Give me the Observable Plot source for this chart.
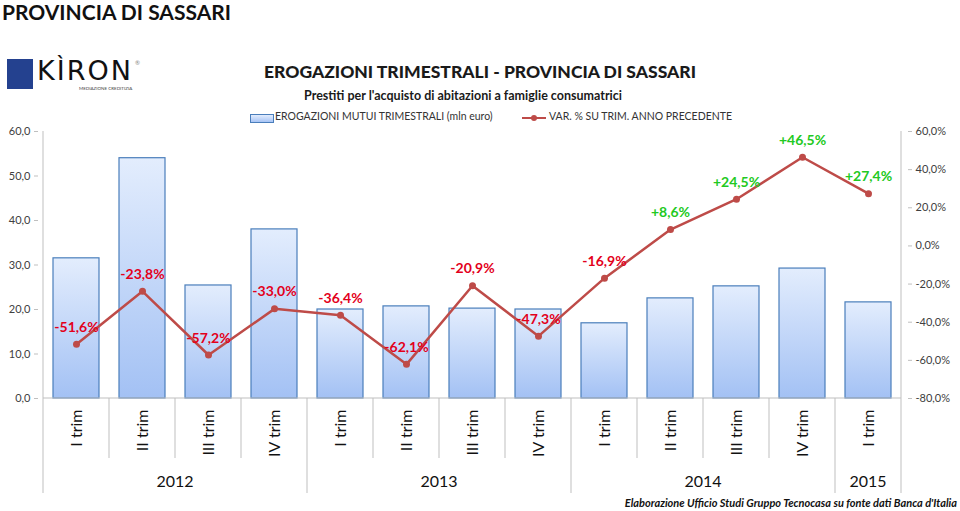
<!DOCTYPE html>
<html>
<head>
<meta charset="utf-8">
<script src="https://cdn.jsdelivr.net/npm/d3@7"></script>
<script src="https://cdn.jsdelivr.net/npm/@observablehq/plot@0.6"></script>
<style>
  html, body { margin: 0; padding: 0; background: #fff; }
  body { width: 960px; height: 511px; position: relative; overflow: hidden; font-family: Lato, "Noto Sans", sans-serif; }
  .abs { position: absolute; white-space: nowrap; }
  #page-title { left: 2px; top: 0px; line-height: 24px; font-size: 21px; font-weight: 700; color: #111; }
  #title { left: 0; width: 960px; text-align: center; top: 61px; font-size: 17.5px; font-weight: 900; color: #1a1a1a; }
  #subtitle { left: 0; width: 926px; text-align: center; top: 88px; font-size: 12.5px; font-weight: 700; color: #1a1a1a; }
  #legend { top: 110px; left: 0; font-size: 10.5px; color: #333; }
  #caption { right: 3px; top: 496px; font-size: 11px; font-weight: 700; font-style: italic; color: #111; }
  #chart { position: absolute; left: 0; top: 120px; }
  #logo { left: 7px; top: 59px; }
</style>
</head>
<body>
<div id="page-title" class="abs">PROVINCIA DI SASSARI</div>
<div id="logo" class="abs">
  <div style="position:absolute;left:0;top:0;width:26px;height:30px;background:#24418f;"></div>
  <div style="position:absolute;left:30px;top:-4px;font-family:'DejaVu Sans',sans-serif;font-size:27px;letter-spacing:2px;color:#111;font-weight:400;">KÌRON</div>
  <div style="position:absolute;left:128px;top:0px;font-size:6px;color:#888;">®</div>
  <div style="position:absolute;left:72px;top:27px;font-size:4.5px;color:#444;">MEDIAZIONE CREDITIZIA</div>
</div>
<div id="title" class="abs">EROGAZIONI TRIMESTRALI - PROVINCIA DI SASSARI</div>
<div id="subtitle" class="abs">Prestiti per l'acquisto di abitazioni a famiglie consumatrici</div>
<div id="legend" class="abs">
  <div style="position:absolute;left:250px;top:4px;width:22px;height:7px;border:1px solid #4a7ebb;background:linear-gradient(#e2ecfd,#a7c4f5);"></div>
  <div style="position:absolute;left:275px;top:0px;">EROGAZIONI MUTUI TRIMESTRALI (mln euro)</div>
  <div style="position:absolute;left:522px;top:7px;width:24px;height:2px;background:#be4b48;"></div>
  <div style="position:absolute;left:531px;top:5px;width:6px;height:6px;border-radius:3px;background:#be4b48;"></div>
  <div style="position:absolute;left:549px;top:0px;">VAR. % SU TRIM. ANNO PRECEDENTE</div>
</div>
<div id="chart"></div>
<div id="caption" class="abs">Elaborazione Ufficio Studi Gruppo Tecnocasa su fonte dati Banca d'Italia</div>
<script>
// ---- data ----
const quarters = ["I trim","II trim","III trim","IV trim","I trim","II trim","III trim","IV trim","I trim","II trim","III trim","IV trim","I trim"];
const years = [2012,2012,2012,2012,2013,2013,2013,2013,2014,2014,2014,2014,2015];
const erogazioni = [31.5,54.0,25.4,38.0,20.0,20.7,20.2,20.0,16.9,22.5,25.2,29.2,21.6];
const variazioni = [-51.6,-23.8,-57.2,-33.0,-36.4,-62.1,-20.9,-47.3,-16.9,8.6,24.5,46.5,27.4];
const leftTicks = [0,10,20,30,40,50,60];
const rightTicks = [-80,-60,-40,-20,0,20,40,60];

const leftDomain = [0, 60];
const rightDomain = [-80, 60];
// map percent onto the bar axis (secondary axis)
const toV = p => leftDomain[0] + (p - rightDomain[0]) * (leftDomain[1] - leftDomain[0]) / (rightDomain[1] - rightDomain[0]);
const fromV = v => rightDomain[0] + (v - leftDomain[0]) * (rightDomain[1] - rightDomain[0]) / (leftDomain[1] - leftDomain[0]);

const rows = quarters.map((q, i) => ({i, q, year: years[i], value: erogazioni[i], pct: variazioni[i]}));
const fmt1 = v => v.toFixed(1).replace(".", ",");
const fmtPct = p => (p > 0 ? "+" : "") + fmt1(p) + "%";

const FONT = "Lato, 'Noto Sans', sans-serif";
const axisGray = "#bfbfbf";

const separators = (index, scales, values, dims) => {
  const {x, y} = scales;
  const g = d3.create("svg:g");
  const step = x.step(), bw = x.bandwidth();
  const left = i => x(i) + bw / 2 - step / 2;
  const y0 = y(0);
  const top = dims.marginTop;
  const n = quarters.length;
  g.append("line").attr("x1", left(0)).attr("x2", left(0)).attr("y1", top).attr("y2", y0 + 95).attr("stroke", axisGray);
  g.append("line").attr("x1", left(n - 1) + step).attr("x2", left(n - 1) + step).attr("y1", top).attr("y2", y0 + 95).attr("stroke", axisGray);
  g.append("line").attr("x1", left(0)).attr("x2", left(n - 1) + step).attr("y1", y0).attr("y2", y0).attr("stroke", axisGray);
  for (let i = 1; i < n; i++) {
    const long = years[i] !== years[i - 1];
    g.append("line").attr("x1", left(i)).attr("x2", left(i)).attr("y1", y0).attr("y2", y0 + (long ? 95 : 60)).attr("stroke", axisGray);
  }
  for (const [yr, items] of d3.groups(rows, d => d.year)) {
    const a = left(items[0].i), b = left(items[items.length - 1].i) + step;
    g.append("text").attr("x", (a + b) / 2).attr("y", y0 + 89)
      .attr("text-anchor", "middle").attr("font-size", 16).attr("fill", "#111").text(yr);
  }
  return g.node();
};

const chart = Plot.plot({
  width: 960,
  height: 380,
  marginTop: 11,
  marginBottom: 102,
  marginLeft: 38,
  marginRight: 53,
  style: {fontFamily: FONT, background: "transparent"},
  x: {type: "band", domain: d3.range(quarters.length), paddingInner: 0.3, paddingOuter: 0.15, axis: null, label: null},
  y: {domain: leftDomain, axis: null, label: null},
  marks: [
    Plot.barY(rows, {x: "i", y: "value", fill: "url(#barGrad)", stroke: "#4a7ebb", strokeWidth: 1.2}),
    separators,
    Plot.axisY({anchor: "left", label: null, ticks: leftTicks, tickFormat: fmt1, tickSize: 4, tickPadding: 4, stroke: axisGray, fill: "#404040", fontSize: 11}),
    Plot.axisY({anchor: "right", label: null, ticks: rightTicks.map(toV), tickFormat: v => fmt1(Math.round(fromV(v))) + "%", tickSize: 4, tickPadding: 4, stroke: axisGray, fill: "#404040", fontSize: 11}),
    Plot.axisX({label: null, ticks: d3.range(quarters.length), tickFormat: i => quarters[i], tickRotate: -90, tickSize: 0, tickPadding: 11, fontSize: 16, fill: "#111"}),
    Plot.line(rows, {x: "i", y: d => toV(d.pct), stroke: "#be4b48", strokeWidth: 2.5}),
    Plot.dot(rows, {x: "i", y: d => toV(d.pct), r: 3.5, fill: "#be4b48", stroke: "none"}),
    Plot.text(rows, {x: "i", y: d => toV(d.pct), text: d => fmtPct(d.pct), dy: -17, fontSize: 14, fontWeight: 700,
      fill: d => d.pct > 0 ? "#22c922" : "#e3001b"})
  ]
});

const defs = d3.select(chart).insert("defs", ":first-child");
const grad = defs.append("linearGradient").attr("id", "barGrad").attr("x1", 0).attr("y1", 0).attr("x2", 0).attr("y2", 1);
grad.append("stop").attr("offset", "0%").attr("stop-color", "#e3edfd");
grad.append("stop").attr("offset", "100%").attr("stop-color", "#a3c1f4");

document.getElementById("chart").appendChild(chart);
</script>
</body>
</html>
